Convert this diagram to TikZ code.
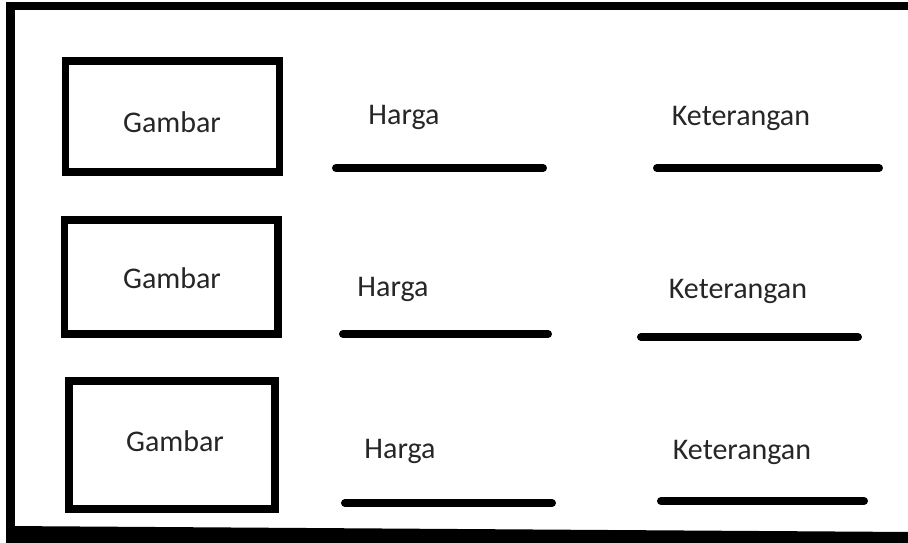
\documentclass[tikz,border=0pt]{standalone}
\usepackage{fontspec}
\setmainfont{Carlito}
\begin{document}
\begin{tikzpicture}[x=1pt,y=-1pt,
  imgbox/.style={draw=black, line width=7.5pt, inner sep=0pt, outer sep=0pt},
  lbl/.style={inner sep=0pt, font=\fontsize{30}{34}\selectfont, text=black!85},
  rule/.style={line width=8pt, line cap=round}]
\useasboundingbox (0,0) rectangle (908,542);
% outer frame (right edge lies beyond the picture)
\coordinate (tr) at (912,6);
\coordinate (tl) at (10.5,6);
\coordinate (bl) at (10.5,542);
\draw[line width=8.5pt] (tr) -- (tl) -- (bl);
\coordinate (b1) at (6,526);
\coordinate (b2) at (912,532);
\coordinate (b3) at (912,546);
\coordinate (b4) at (6,546);
\fill (b1) -- (b2) -- (b3) -- (b4) -- cycle;
% picture boxes
\node[imgbox, minimum width=214pt, minimum height=111pt] (g1) at (172.5,116.5) {};
\node[imgbox, minimum width=213.5pt, minimum height=114pt] (g2) at (171.3,277) {};
\node[imgbox, minimum width=206pt, minimum height=128pt] (g3) at (172,445) {};
\node[lbl] (tg1) at (172,122) {Gambar};
\node[lbl] (tg2) at (172,278) {Gambar};
\node[lbl] (tg3) at (175,441) {Gambar};
% price and description labels
\node[lbl] (th1) at (404,117) {Harga};
\node[lbl] (tk1) at (741,118) {Keterangan};
\node[lbl] (th2) at (393,289) {Harga};
\node[lbl] (tk2) at (738,291) {Keterangan};
\node[lbl] (th3) at (400,451) {Harga};
\node[lbl] (tk3) at (742,452) {Keterangan};
% underlines
\coordinate (h1a) at (336,168); \coordinate (h1b) at (543,168);
\coordinate (k1a) at (657,168); \coordinate (k1b) at (879,168);
\coordinate (h2a) at (343,334); \coordinate (h2b) at (548,334);
\coordinate (k2a) at (641,337); \coordinate (k2b) at (858,337);
\coordinate (h3a) at (345,503); \coordinate (h3b) at (552,503);
\coordinate (k3a) at (661,501); \coordinate (k3b) at (864,501);
\draw[rule] (h1a) -- (h1b);
\draw[rule] (k1a) -- (k1b);
\draw[rule] (h2a) -- (h2b);
\draw[rule] (k2a) -- (k2b);
\draw[rule] (h3a) -- (h3b);
\draw[rule] (k3a) -- (k3b);
\end{tikzpicture}
\end{document}
